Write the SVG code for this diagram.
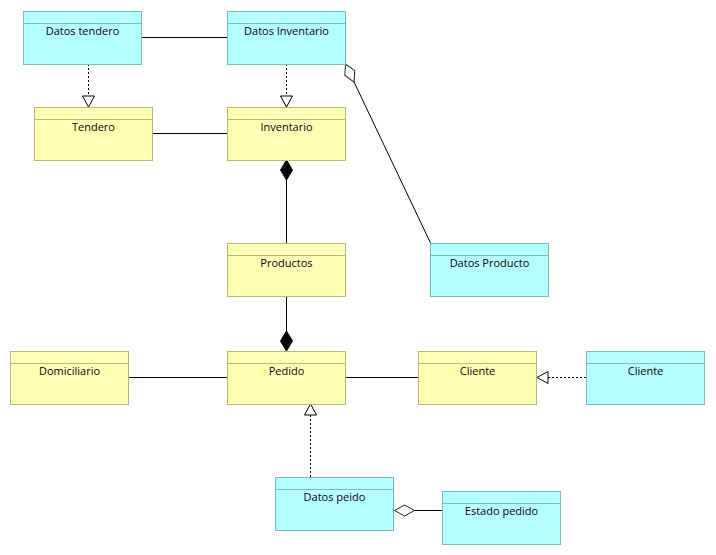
<svg xmlns="http://www.w3.org/2000/svg" width="716" height="555" viewBox="0 0 716 555">
  <style>
    .bg { fill: #ffffff; }
    .cls rect { stroke-width: 1; }
    .cyan rect { fill: #b4ffff; stroke: #7bbcbc; }
    .cyan line { stroke: #7bbcbc; stroke-width: 1; }
    .yellow rect { fill: #ffffb4; stroke: #b8b878; }
    .yellow line { stroke: #b8b878; stroke-width: 1; }
    .cls text { font-family: "Open Sans", "Noto Sans", "Liberation Sans", sans-serif; font-size: 11px; fill: #100010; text-anchor: middle; }
    .conn path { fill: none; stroke: #000000; stroke-width: 1; }
    .conn path.dash { stroke-dasharray: 2 2; }
  </style>
  <defs>
    <!-- hollow triangle: generalization / realization -->
    <marker id="tri" markerUnits="userSpaceOnUse" markerWidth="14" markerHeight="14" viewBox="0 0 14 14" refX="12" refY="7" orient="auto">
      <path d="M1,1 L12,7 L1,13 Z" fill="#ffffff" stroke="#000000" stroke-width="1"/>
    </marker>
    <!-- filled diamond: composition -->
    <marker id="comp" markerUnits="userSpaceOnUse" markerWidth="22" markerHeight="14" viewBox="0 0 22 14" refX="21" refY="7" orient="auto">
      <path d="M1,7 L11,1 L21,7 L11,13 Z" fill="#000000" stroke="#000000" stroke-width="1"/>
    </marker>
    <!-- hollow diamond: aggregation -->
    <marker id="aggr" markerUnits="userSpaceOnUse" markerWidth="22" markerHeight="14" viewBox="0 0 22 14" refX="21" refY="7" orient="auto">
      <path d="M1,7 L11,1.5 L21,7 L11,12.5 Z" fill="#ffffff" stroke="#222222" stroke-width="1"/>
    </marker>
  </defs>
  <rect class="bg" x="0" y="0" width="716" height="555"/>

  <g id="connectors" class="conn">
    <path d="M142,37.5 H227"/>
    <path d="M153,133.5 H227"/>
    <path class="dash" d="M88.5,64 V107" marker-end="url(#tri)"/>
    <path class="dash" d="M286.5,64 V107" marker-end="url(#tri)"/>
    <path d="M286.5,243 V160" marker-end="url(#comp)"/>
    <path d="M286.5,296 V351" marker-end="url(#comp)"/>
    <path d="M430.5,243 L345.5,64" marker-end="url(#aggr)"/>
    <path d="M129,377.5 H227"/>
    <path d="M345,377.5 H418"/>
    <path class="dash" d="M586,377.5 H537" marker-end="url(#tri)"/>
    <path class="dash" d="M310.5,477 V404" marker-end="url(#tri)"/>
    <path d="M442,510.5 H394.5" marker-end="url(#aggr)"/>
  </g>

  <g id="datos-tendero" class="cls cyan">
    <rect x="23.5" y="11.5" width="118" height="53"/>
    <line x1="23.5" y1="23.5" x2="141.5" y2="23.5"/>
    <text x="82.5" y="35">Datos tendero</text>
  </g>
  <g id="datos-inventario" class="cls cyan">
    <rect x="227.5" y="11.5" width="118" height="53"/>
    <line x1="227.5" y1="23.5" x2="345.5" y2="23.5"/>
    <text x="286.5" y="35">Datos Inventario</text>
  </g>
  <g id="tendero" class="cls yellow">
    <rect x="34.5" y="107.5" width="118" height="53"/>
    <line x1="34.5" y1="119.5" x2="152.5" y2="119.5"/>
    <text x="93.5" y="131">Tendero</text>
  </g>
  <g id="inventario" class="cls yellow">
    <rect x="227.5" y="107.5" width="118" height="53"/>
    <line x1="227.5" y1="119.5" x2="345.5" y2="119.5"/>
    <text x="286.5" y="131">Inventario</text>
  </g>
  <g id="productos" class="cls yellow">
    <rect x="227.5" y="243.5" width="118" height="53"/>
    <line x1="227.5" y1="255.5" x2="345.5" y2="255.5"/>
    <text x="286.5" y="267">Productos</text>
  </g>
  <g id="datos-producto" class="cls cyan">
    <rect x="430.5" y="243.5" width="118" height="53"/>
    <line x1="430.5" y1="255.5" x2="548.5" y2="255.5"/>
    <text x="489.5" y="267">Datos Producto</text>
  </g>
  <g id="domiciliario" class="cls yellow">
    <rect x="10.5" y="351.5" width="118" height="53"/>
    <line x1="10.5" y1="363.5" x2="128.5" y2="363.5"/>
    <text x="69.5" y="375">Domiciliario</text>
  </g>
  <g id="pedido" class="cls yellow">
    <rect x="227.5" y="351.5" width="118" height="53"/>
    <line x1="227.5" y1="363.5" x2="345.5" y2="363.5"/>
    <text x="286.5" y="375">Pedido</text>
  </g>
  <g id="cliente" class="cls yellow">
    <rect x="418.5" y="351.5" width="118" height="53"/>
    <line x1="418.5" y1="363.5" x2="536.5" y2="363.5"/>
    <text x="477.5" y="375">Cliente</text>
  </g>
  <g id="datos-cliente" class="cls cyan">
    <rect x="586.5" y="351.5" width="118" height="53"/>
    <line x1="586.5" y1="363.5" x2="704.5" y2="363.5"/>
    <text x="645.5" y="375">Cliente</text>
  </g>
  <g id="datos-peido" class="cls cyan">
    <rect x="275.5" y="477.5" width="118" height="53"/>
    <line x1="275.5" y1="489.5" x2="393.5" y2="489.5"/>
    <text x="334.5" y="501">Datos peido</text>
  </g>
  <g id="estado-pedido" class="cls cyan">
    <rect x="442.5" y="491.5" width="118" height="53"/>
    <line x1="442.5" y1="503.5" x2="560.5" y2="503.5"/>
    <text x="501.5" y="515">Estado pedido</text>
  </g>
</svg>
